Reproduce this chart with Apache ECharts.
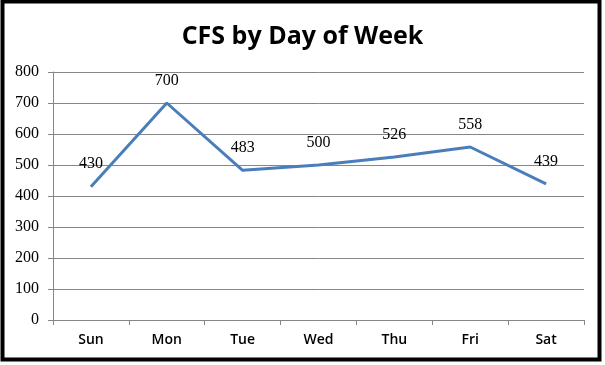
<!DOCTYPE html>
<html><head><meta charset="utf-8">
<script src="https://cdn.jsdelivr.net/npm/echarts@6/dist/echarts.min.js"></script>
<style>html,body{margin:0;padding:0;background:#fff}#c{width:605px;height:365px}</style>
</head><body><div id="c"></div>
<script>
var categories = ['Sun','Mon','Tue','Wed','Thu','Fri','Sat'];
var cfsValues = [430, 700, 483, 500, 526, 558, 439];
var yTicks = [0,100,200,300,400,500,600,700,800];

var chart = echarts.init(document.getElementById('c'), null, {renderer:'canvas'});
chart.setOption({
  animation:false,
  backgroundColor:'#fff',
  title:{text:'CFS by Day of Week', left:'center', top:19,
    textStyle:{fontFamily:'Open Sans', fontWeight:'bold', fontSize:25, color:'#000'}},
  graphic:[{type:'rect', shape:{x:2.5,y:1.5,width:597,height:358},
    style:{fill:'none', stroke:'#000', lineWidth:4}, z:100}],
  grid:{left:53, right:21, top:72, bottom:45},
  xAxis:{type:'category', data:categories, boundaryGap:true,
    axisLine:{lineStyle:{color:'#868686', width:1}},
    axisTick:{show:true, length:5, lineStyle:{color:'#868686'}},
    axisLabel:{color:'#000', fontFamily:'Open Sans', fontWeight:600, fontSize:14, margin:13}},
  yAxis:{type:'value', min:yTicks[0], max:yTicks[yTicks.length-1], interval:100,
    axisLine:{show:true, lineStyle:{color:'#868686'}},
    axisTick:{show:true, length:5, lineStyle:{color:'#868686'}},
    splitLine:{lineStyle:{color:'#868686', width:1}},
    axisLabel:{color:'#000', fontFamily:'Liberation Serif', fontSize:16, margin:14}},
  series:[{type:'line', data:cfsValues, symbol:'circle', symbolSize:1, showSymbol:true,
    itemStyle:{color:'rgba(0,0,0,0)'},
    lineStyle:{color:'#4a7ebb', width:3},
    label:{show:true, position:'top', distance:14, color:'#000', fontFamily:'Liberation Serif', fontSize:16}}]
});
</script></body></html>
